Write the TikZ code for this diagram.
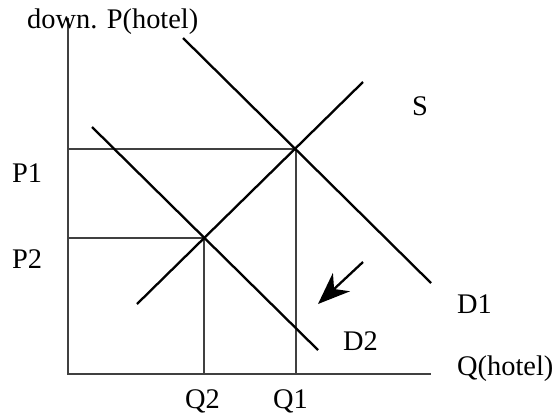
\documentclass[tikz,border=0pt]{standalone}
\usepackage{fontspec}
\setmainfont{Liberation Serif}
\usetikzlibrary{arrows.meta}
\tikzset{
  curve/.style={line width=2.3bp, black},
  guide/.style={line width=1.7bp, black!75},
  lbl/.style={anchor=base west, inner sep=0pt, font=\fontsize{28.5}{33}\selectfont}
}
\begin{document}
\begin{tikzpicture}[x=1bp,y=-1bp]
\useasboundingbox (0,0) rectangle (556,418);
% key points
\coordinate (O) at (68,374);
\coordinate (Ytop) at (68,18);
\coordinate (Xend) at (431,374);
\coordinate (E1) at (296,149);
\coordinate (E2) at (204,238);
\coordinate (Sa) at (137,304);
\coordinate (Sb) at (363,82);
\coordinate (D1a) at (183,38);
\coordinate (D1b) at (431,283);
\coordinate (D2a) at (92,127);
\coordinate (D2b) at (318,350);
\coordinate (P1y) at (68,149);
\coordinate (P2y) at (68,238);
\coordinate (Q1x) at (296,374);
\coordinate (Q2x) at (204,374);
\coordinate (Ar1) at (363,262);
\coordinate (Ar2) at (318,304);
% axes
\draw[guide] (Ytop) -- (O) -- (Xend);
% guides
\draw[guide] (P1y) -- (E1) -- (Q1x);
\draw[guide] (P2y) -- (E2) -- (Q2x);
% curves
\draw[curve] (Sa) -- (Sb);
\draw[curve] (D1a) -- (D1b);
\draw[curve] (D2a) -- (D2b);
% shift arrow
\draw[curve, -{Stealth[length=32bp,width=25bp,inset=10bp]}] (Ar1) -- (Ar2);
% labels
\node[lbl] (title) at (27,28) {down. P(hotel)};
\node[lbl] (S) at (412,115) {S};
\node[lbl] (P1) at (12,182) {P1};
\node[lbl] (P2) at (12,268) {P2};
\node[lbl] (D1) at (457,313) {D1};
\node[lbl] (D2) at (343,350) {D2};
\node[lbl] (Q) at (457,375) {Q(hotel)};
\node[lbl] (Q2) at (185,408) {Q2};
\node[lbl] (Q1) at (273,408) {Q1};
\end{tikzpicture}
\end{document}
